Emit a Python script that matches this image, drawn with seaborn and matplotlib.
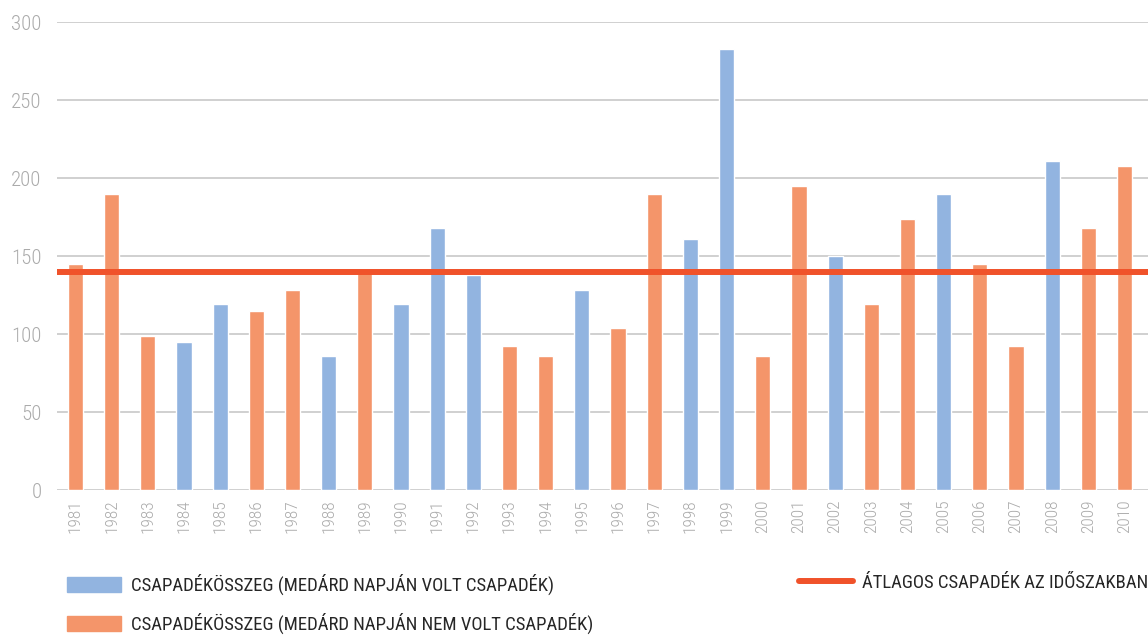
import matplotlib
matplotlib.use("Agg")
import matplotlib.pyplot as plt
import matplotlib.patches as mpatches
import matplotlib.lines as mlines
import seaborn as sns
import pandas as pd

# data
years = list(range(1981, 2011))
rain = [145, 190, 99, 95, 119, 115, 128, 86, 140, 119,
        168, 138, 92, 86, 128, 104, 190, 161, 283, 86,
        195, 150, 119, 174, 190, 145, 92, 211, 168, 208]
wet_years = [1984, 1985, 1988, 1990, 1991, 1992, 1995, 1998, 1999, 2002, 2005, 2008]
average = 140

lbl_wet = "CSAPADÉKÖSSZEG (MEDÁRD NAPJÁN VOLT CSAPADÉK)"
lbl_dry = "CSAPADÉKÖSSZEG (MEDÁRD NAPJÁN NEM VOLT CSAPADÉK)"
lbl_avg = "ÁTLAGOS CSAPADÉK AZ IDŐSZAKBAN"

blue = "#92B4E0"
orange = "#F4956A"
red = "#F0522A"

df = pd.DataFrame({"year": [str(y) for y in years], "rain": rain})
df["kind"] = [lbl_wet if y in wet_years else lbl_dry for y in years]

sns.set_style("white")
plt.rcParams['font.family'] = ['Roboto Condensed', 'DejaVu Sans Condensed', 'Roboto', 'DejaVu Sans']

fig = plt.figure(figsize=(11.48, 6.36), dpi=100)
ax = fig.add_axes([57 / 1148, 1 - 490 / 636, 1 - 57 / 1148, (490 - 22) / 636])

sns.barplot(data=df, x="year", y="rain", hue="kind", dodge=False, width=0.42,
            palette={lbl_wet: blue, lbl_dry: orange}, saturation=1, legend=False,
            ax=ax, zorder=2)
ax.axhline(average, color=red, lw=4.3, zorder=3)

ax.set_ylim(0, 300)
ax.set_xlim(-0.51, 29.65)
ax.set_yticks(range(0, 301, 50))
ax.yaxis.grid(True, color="#C8C8C8", lw=1.2, zorder=0)
ax.set_axisbelow(True)
for s in ax.spines.values():
    s.set_visible(False)
ax.set_xlabel("")
ax.set_ylabel("")
ax.tick_params(axis="y", length=0, pad=11, labelsize=15, labelcolor="#ABABAB")
ax.tick_params(axis="x", length=0, pad=7, labelsize=12.5, labelcolor="#ABABAB", rotation=90)
for t in ax.get_xticklabels() + ax.get_yticklabels():
    t.set_fontweight("light")

# legend
h_wet = mpatches.Patch(color=blue, label=lbl_wet)
h_dry = mpatches.Patch(color=orange, label=lbl_dry)
h_avg = mlines.Line2D([], [], color=red, lw=4.3, label=lbl_avg)
fig.legend(handles=[h_wet, h_dry], loc="upper left", bbox_to_anchor=(0.0436, 0.124),
           frameon=False, fontsize=13.5, labelcolor="#262626", handlelength=2.9,
           handleheight=0.9, handletextpad=0.5, labelspacing=0.95)
fig.legend(handles=[h_avg], loc="upper left", bbox_to_anchor=(0.681, 0.124),
           frameon=False, fontsize=13.5, labelcolor="#262626", handlelength=2.9,
           handletextpad=0.5)

fig.savefig("out.png", dpi=100)
